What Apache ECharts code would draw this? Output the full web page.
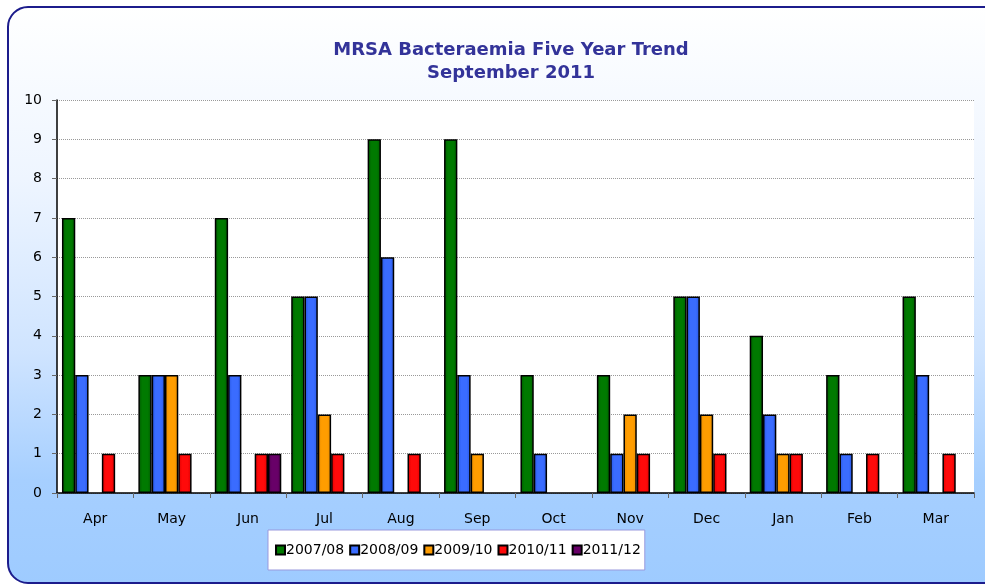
<!DOCTYPE html>
<html><head><meta charset="utf-8">
<script src="https://cdn.jsdelivr.net/npm/echarts@6/dist/echarts.min.js"></script>
<style>html,body{margin:0;padding:0;background:#fff}#c{width:985px;height:584px}</style>
</head><body><div id="c"></div>
<script>
const categories = ['Apr','May','Jun','Jul','Aug','Sep','Oct','Nov','Dec','Jan','Feb','Mar'];
const seriesNames = ['2007/08','2008/09','2009/10','2010/11','2011/12'];
const s2007 = [7,3,7,5,9,9,3,3,5,4,3,5];
const s2008 = [3,3,3,5,6,3,1,1,5,2,1,3];
const s2009 = [null,3,null,2,null,1,null,2,2,1,null,null];
const s2010 = [1,1,1,1,1,null,null,1,1,1,1,1];
const s2011 = [null,null,1,null,null,null,null,null,null,null,null,null];
const yTicks = [0,1,2,3,4,5,6,7,8,9,10];
const colors = [['#005a00','#007a00'],['#2656e0','#3a6cff'],['#e88c00','#ff9d00'],['#dd0000','#ff0a0a'],['#500050','#680068']];
const data = [s2007,s2008,s2009,s2010,s2011];
const FONT = 'DejaVu Sans';

function grad(c){return new echarts.graphic.LinearGradient(0,0,1,0,[{offset:0,color:c[0]},{offset:0.3,color:c[1]},{offset:0.7,color:c[1]},{offset:1,color:c[0]}]);}

const chart = echarts.init(document.getElementById('c'),null,{renderer:'canvas'});
chart.setOption({
  animation:false,
  graphic:[{
    type:'rect', z:-10, silent:true,
    shape:{x:8,y:7,width:1000,height:576,r:20},
    style:{
      fill:new echarts.graphic.LinearGradient(0,0,0,1,[{offset:0,color:'#ffffff'},{offset:0.3,color:'#eef5ff'},{offset:0.6,color:'#cfe4ff'},{offset:0.82,color:'#a6cfff'},{offset:1,color:'#9ecbff'}]),
      stroke:'#1c1c8c', lineWidth:2
    }
  }],
  title:{
    text:'MRSA Bacteraemia Five Year Trend\nSeptember 2011',
    left:506, top:34, textAlign:'center',
    textStyle:{color:'#333399',fontFamily:FONT,fontWeight:'bold',fontSize:18,lineHeight:23}
  },
  grid:{left:57,right:11,top:100,bottom:91,backgroundColor:'#ffffff',show:true,borderWidth:0},
  legend:{
    data:seriesNames.map(n=>({name:n})),
    left:268, top:530, width:375, height:30,
    padding:[13,4,13,7],
    backgroundColor:'#ffffff', borderColor:'#9999dd', borderWidth:1, borderRadius:0,
    itemWidth:9, itemHeight:9, itemGap:5, icon:'rect',
    textStyle:{fontFamily:FONT,fontSize:14,color:'#000',padding:[0,0,0,-4]}
  },
  xAxis:{
    type:'category', data:categories,
    axisLine:{lineStyle:{color:'#000',width:1.5}},
    axisTick:{show:true,length:5,lineStyle:{color:'#666'}},
    axisLabel:{color:'#000',fontFamily:FONT,fontSize:14,margin:19}
  },
  yAxis:{
    type:'value', min:0, max:10, interval:1,
    axisLine:{show:true,lineStyle:{color:'#000',width:1.5}},
    axisTick:{show:true,length:5,lineStyle:{color:'#666'}},
    axisLabel:{color:'#000',fontFamily:FONT,fontSize:14,margin:15,formatter:v=>yTicks.includes(v)?String(v):''},
    splitLine:{lineStyle:{color:'#999',type:[1,1],width:1}}
  },
  series:data.map((d,i)=>({
    name:seriesNames[i], type:'bar', data:d,
    barGap:'0%', barCategoryGap:'13%',
    itemStyle:{color:grad(colors[i]),borderColor:'#000',borderWidth:1.5},
    emphasis:{disabled:true}
  })),
  color:colors.map(c=>c[1])
});
</script></body></html>
